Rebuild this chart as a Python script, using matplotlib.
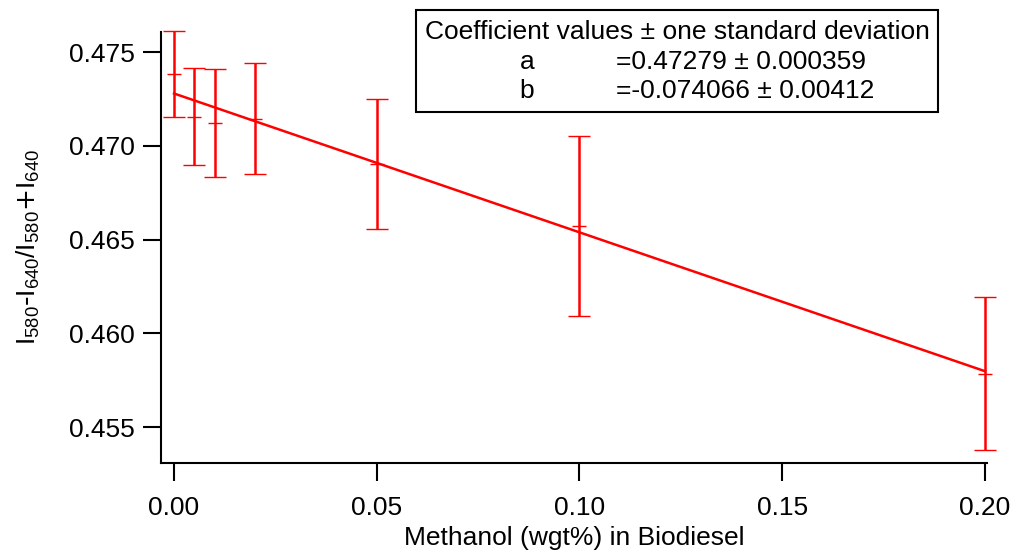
import numpy as np
import matplotlib.pyplot as plt
from matplotlib.patches import Rectangle
plt.rcParams['font.family'] = ['Liberation Sans', 'DejaVu Sans']
plt.rcParams['font.size'] = 19

# data
methanol = [0.0, 0.005, 0.01, 0.02, 0.05, 0.10, 0.20]
ratio = [0.47383, 0.47156, 0.47123, 0.47143, 0.46903, 0.46572, 0.45783]
ratio_err = [0.00227, 0.00259, 0.00288, 0.00296, 0.00347, 0.00480, 0.00408]

# fit coefficients
a = 0.47279
b = -0.074066
fit_x = np.array([0.0, 0.20])

W, H = 1013, 556
fig = plt.figure(figsize=(W/100, H/100), dpi=100)
ax = fig.add_axes([161/W, 1-463/H, (987-161)/W, (463-32)/H])

eb = ax.errorbar(methanol, ratio, yerr=ratio_err, fmt='_', color='red', ms=10, mew=1,
                 ecolor='red', elinewidth=1.8, capsize=8, capthick=1.8)
for art in eb.get_children():
    art.set_clip_on(False)
ax.plot(fit_x, a + b*fit_x, color='red', linewidth=1.8)

ax.set_xlim(-0.00321, 0.2005)
ax.set_ylim(0.45308, 0.47607)
ax.set_xticks([0.0, 0.05, 0.10, 0.15, 0.20])
ax.set_xticklabels(['0.00', '0.05', '0.10', '0.15', '0.20'])
ax.set_yticks([0.455, 0.460, 0.465, 0.470, 0.475])
ax.set_yticklabels(['0.455', '0.460', '0.465', '0.470', '0.475'])
ax.spines['top'].set_visible(False)
ax.spines['right'].set_visible(False)
ax.spines['left'].set_linewidth(1.5)
ax.spines['bottom'].set_linewidth(1.5)
ax.tick_params(direction='out', length=13, width=1.5, pad=6)
ax.tick_params(axis='x', pad=11)
ax.set_xlabel('Methanol (wgt%) in Biodiesel', labelpad=4)
ax.set_ylabel(r'$\mathregular{I_{580}\text{-}I_{640}/I_{580}\text{+}I_{640}}$', labelpad=19)

# coefficient box
fig.add_artist(Rectangle((416/W, 1-112/H), (938-416)/W, (112-10)/H,
                         transform=fig.transFigure, fill=False, edgecolor='black', linewidth=1.5))
fig.text(677/W, 1-32/H, 'Coefficient values ± one standard deviation', ha='center', va='center')
fig.text(527/W, 1-62/H, 'a', ha='center', va='center')
fig.text(616/W, 1-62/H, '=0.47279 ± 0.000359', ha='left', va='center')
fig.text(527/W, 1-91/H, 'b', ha='center', va='center')
fig.text(616/W, 1-91/H, '=-0.074066 ± 0.00412', ha='left', va='center')

fig.savefig('out.png', dpi=100)
